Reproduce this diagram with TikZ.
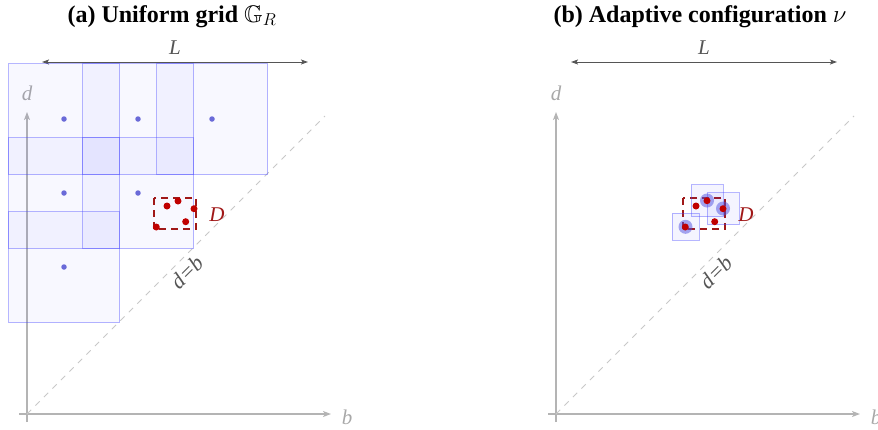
\documentclass[tikz,border=0pt]{standalone}
\usepackage{amssymb}
\usepackage{fontspec}
\setmainfont{Liberation Serif}
\usetikzlibrary{arrows.meta}
\definecolor{axisgray}{HTML}{B4B4B4}
\definecolor{labelgray}{HTML}{A8A8A8}
\definecolor{diaggray}{HTML}{C8C8C8}
\definecolor{darkline}{HTML}{555555}
\definecolor{cellblue}{HTML}{4848FF}
\definecolor{dotblue}{HTML}{6A6AD8}
\definecolor{haloblue}{HTML}{5050E0}
\definecolor{boxred}{HTML}{A01818}
\definecolor{ptred}{HTML}{C00000}
\tikzset{
  axisline/.style={draw=axisgray, line width=1.3pt, -{Stealth[length=8pt,width=6pt,inset=2pt]}},
  diagline/.style={draw=diaggray, line width=0.9pt, dash pattern=on 6pt off 6pt},
  lenline/.style={draw=darkline, line width=1pt, {Stealth[length=7pt,width=5pt,inset=1.5pt]}-{Stealth[length=7pt,width=5pt,inset=1.5pt]}},
  cell/.style={draw=cellblue, draw opacity=0.4, fill=cellblue, fill opacity=0.04, line width=1pt, inner sep=0pt, outer sep=0pt},
  gdot/.style={circle, fill=dotblue, inner sep=0pt, minimum size=5.5pt},
  halo/.style={circle, fill=haloblue, fill opacity=0.5, inner sep=0pt, minimum size=14pt},
  rdot/.style={circle, fill=ptred, inner sep=0pt, minimum size=7pt},
  dbox/.style={draw=boxred, line width=1.3pt, dash pattern=on 7pt off 5pt},
  titletext/.style={font=\fontsize{24}{28}\selectfont\bfseries, anchor=base, inner sep=0pt},
  axlabel/.style={font=\fontsize{21}{24}\selectfont\itshape, text=labelgray, anchor=base, inner sep=0pt},
  lenlabel/.style={font=\fontsize{21}{24}\selectfont\itshape, text=darkline, anchor=base, inner sep=0pt},
  dlabel/.style={font=\fontsize{21}{24}\selectfont\itshape, text=boxred, anchor=base, inner sep=0pt},
  diaglabel/.style={font=\fontsize{22}{24}\selectfont\itshape, text=darkline, rotate=45, inner sep=0pt}
}
\begin{document}
\begin{tikzpicture}[x=1pt,y=-1pt]
\useasboundingbox (0,0) rectangle (878,429);

% ---------------- Panel (a) ----------------
\node[titletext] (ta) at (172,22) {(a) Uniform grid $\mathbb{G}_R$};
\coordinate (aO) at (27,414);
\coordinate (aXs) at (19,414);
\coordinate (aXe) at (331,414);
\coordinate (aYs) at (27,422);
\coordinate (aYe) at (27,112);
\coordinate (aDe) at (325,116);
\draw[axisline] (aXs) -- (aXe);
\draw[axisline] (aYs) -- (aYe);
\draw[diagline] (aO) -- (aDe);
\node[axlabel] (ab) at (347,424) {b};
\node[axlabel] (ad) at (27,100) {d};
\coordinate (aLs) at (42,62);
\coordinate (aLe) at (308,62);
\draw[lenline] (aLs) -- (aLe);
\node[lenlabel] (aL) at (175,54) {L};

\node[cell, minimum size=111pt] (c1) at (64,119) {};
\node[cell, minimum size=111pt] (c2) at (138,119) {};
\node[cell, minimum size=111pt] (c3) at (212,119) {};
\node[cell, minimum size=111pt] (c4) at (64,193) {};
\node[cell, minimum size=111pt] (c5) at (138,193) {};
\node[cell, minimum size=111pt] (c6) at (64,267) {};
\node[gdot] (g1) at (64,119) {};
\node[gdot] (g2) at (138,119) {};
\node[gdot] (g3) at (212,119) {};
\node[gdot] (g4) at (64,193) {};
\node[gdot] (g5) at (138,193) {};
\node[gdot] (g6) at (64,267) {};

\node[diaglabel] (adb) at (187,272) {d=b};

\coordinate (aB1) at (154,198);
\coordinate (aB2) at (196,229);
\draw[dbox] (aB1) rectangle (aB2);
\node[rdot] (ap1) at (167,206) {};
\node[rdot] (ap2) at (178,201) {};
\node[rdot] (ap3) at (194,208.7) {};
\node[rdot] (ap4) at (185.7,221.7) {};
\node[rdot] (ap5) at (156.3,227) {};
\node[dlabel] (aD) at (217,221.5) {D};

% ---------------- Panel (b) ----------------
\node[titletext] (tb) at (700,22) {(b) Adaptive configuration $\nu$};
\coordinate (bO) at (556,414);
\coordinate (bXs) at (548,414);
\coordinate (bXe) at (860,414);
\coordinate (bYs) at (556,422);
\coordinate (bYe) at (556,112);
\coordinate (bDe) at (854,116);
\draw[axisline] (bXs) -- (bXe);
\draw[axisline] (bYs) -- (bYe);
\draw[diagline] (bO) -- (bDe);
\node[axlabel] (bb) at (876,424) {b};
\node[axlabel] (bd) at (556,100) {d};
\coordinate (bLs) at (571,62);
\coordinate (bLe) at (837,62);
\draw[lenline] (bLs) -- (bLe);
\node[lenlabel] (bL) at (704,54) {L};

\node[diaglabel] (bdb) at (716,272) {d=b};

\coordinate (bB1) at (683,198);
\coordinate (bB2) at (725,229);
\draw[dbox] (bB1) rectangle (bB2);

\node[cell, fill opacity=0.06, minimum size=27pt] (s1) at (685.5,226.8) {};
\node[cell, fill opacity=0.06, minimum size=32pt] (s2) at (707,200.5) {};
\node[cell, fill opacity=0.06, minimum size=32pt] (s3) at (723,208.5) {};
\node[halo] (h1) at (685.5,226.8) {};
\node[halo] (h2) at (707,200.5) {};
\node[halo] (h3) at (723,208.5) {};

\node[rdot] (bp1) at (696,206) {};
\node[rdot] (bp2) at (707,200.7) {};
\node[rdot] (bp3) at (723,208.7) {};
\node[rdot] (bp4) at (714.7,221.7) {};
\node[rdot] (bp5) at (685.3,227) {};
\node[dlabel] (bD) at (746,221.5) {D};
\end{tikzpicture}
\end{document}
